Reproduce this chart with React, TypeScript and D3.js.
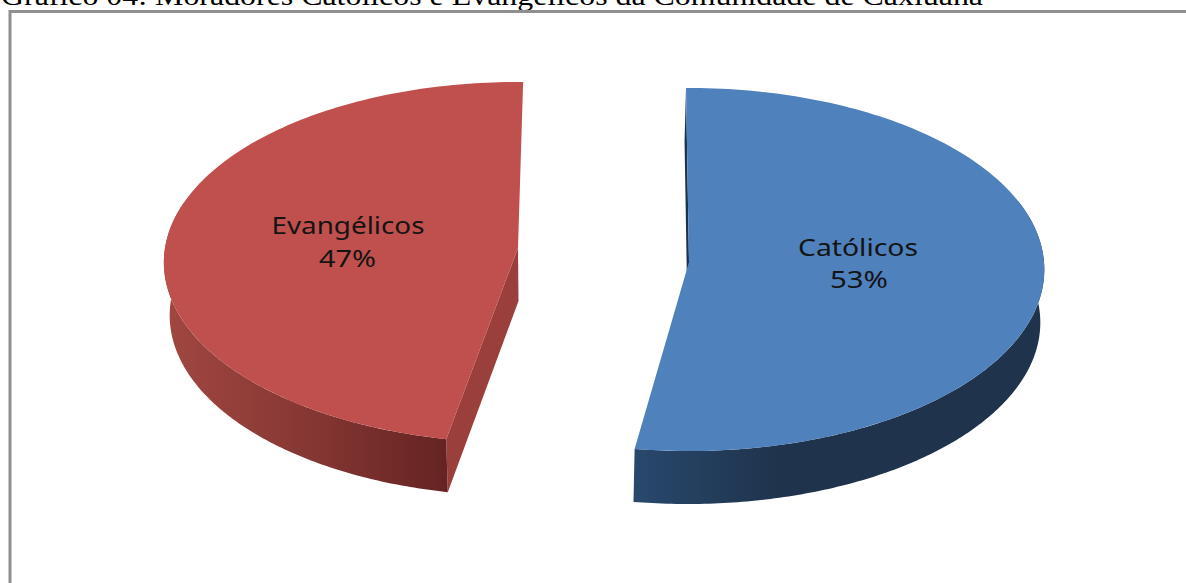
import React from "react";
import * as d3 from "d3";

const categories = ["Católicos", "Evangélicos"];
const seriesValues = [53, 47];
const percentLabels = ["53%", "47%"];
const titleText = "Gráfico 04: Moradores Católicos e Evangélicos da Comunidade de Caxiuanã";

const W = 1186;
const H = 583;
const DEG = Math.PI / 180;

type View = {
  cx: number; cy: number; rx: number; ry: number; k: number; depth: number;
  lowerDx: number; lowerScale: number; startAdj: number; endAdj: number;
  wallFrom: number; top: string; wall: string; side: string;
  label: { x: number; y: number; w: number }; pct: { x: number; y: number; w: number };
};

const views: View[] = [
  {
    cx: 689, cy: 262, rx: 355, ry: 181.2, k: 0.0414, depth: 53, lowerDx: -1.5, lowerScale: 0.993,
    startAdj: -0.5, endAdj: -2.35, wallFrom: 70, top: "#4f81bd", wall: "url(#wallBlue)", side: "#1b324d",
    label: { x: 858, y: 256, w: 120 }, pct: { x: 859, y: 288, w: 58 },
  },
  {
    cx: 518, cy: 248, rx: 353, ry: 179.3, k: 0.08, depth: 53, lowerDx: 0.5, lowerScale: 0.985,
    startAdj: 0, endAdj: 0.9, wallFrom: 0, top: "#c0504d", wall: "url(#wallRed)", side: "#9a3f3c",
    label: { x: 348, y: 234, w: 153 }, pct: { x: 347.5, y: 266.5, w: 57 },
  },
];

const pieAngles = d3.pie<number>().sort(null).startAngle(0).endAngle(2 * Math.PI)(seriesValues);

function project(v: View, a: number, lower: boolean): [number, number] {
  const u = Math.sin(a);
  const t = -Math.cos(a);
  const w = 1 / (1 - v.k * t);
  const s = lower ? v.lowerScale : 1;
  const dx = lower ? v.lowerDx : 0;
  const dy = lower ? v.depth : 0;
  return [v.cx + dx + v.rx * s * u * w, v.cy + dy + v.ry * t * w];
}

const line = d3.line<[number, number]>().x((d) => d[0]).y((d) => d[1]);

function arcPts(v: View, a0: number, a1: number, lower: boolean): [number, number][] {
  const n = 160;
  return d3.range(n + 1).map((i) => project(v, a0 + ((a1 - a0) * i) / n, lower));
}

function apex(v: View, lower: boolean): [number, number] {
  return [v.cx + (lower ? v.lowerDx : 0), v.cy + (lower ? v.depth : 0)];
}

function Slice({ index }: { index: number }) {
  const v = views[index];
  const d = pieAngles[index];
  const a0 = d.startAngle + v.startAdj * DEG;
  const a1 = d.endAngle + v.endAdj * DEG;
  const top = [apex(v, false), ...arcPts(v, a0, a1, false)];
  let wallPts: [number, number][];
  const faces: [number, number][][] = [];
  if (index === 0) {
    // outer wall: right extreme round to the front cut
    const from = v.wallFrom * DEG;
    wallPts = [...arcPts(v, from, a1, false), ...arcPts(v, from, a1, true).reverse()];
    // thin far cut wall seen behind the start edge
    faces.push([project(v, a0, false), apex(v, false), apex(v, true), project(v, a0, true)]);
  } else {
    const to = 285 * DEG;
    wallPts = [...arcPts(v, a0, to, false), ...arcPts(v, a0, to, true).reverse()];
    // front cut wall from the start corner to the centre
    faces.push([project(v, a0, false), apex(v, false), apex(v, true), project(v, a0, true)]);
  }
  return (
    <g>
      {faces.map((f, i) => (
        <path key={i} d={line(f) + "Z"} fill={v.side} />
      ))}
      <path d={line(wallPts) + "Z"} fill={v.wall} />
      <path d={line(top) + "Z"} fill={v.top} />
    </g>
  );
}

function Label({ index }: { index: number }) {
  const v = views[index];
  const common = {
    fontFamily: "'Noto Sans', Lato, sans-serif",
    fontSize: 23,
    fill: "#141414",
    textAnchor: "middle" as const,
    lengthAdjust: "spacingAndGlyphs" as const,
  };
  return (
    <g>
      <text x={v.label.x} y={v.label.y} textLength={v.label.w} {...common}>{categories[index]}</text>
      <text x={v.pct.x} y={v.pct.y} textLength={v.pct.w} {...common}>{percentLabels[index]}</text>
    </g>
  );
}

export default function App() {
  return (
    <svg
      width={W}
      height={H}
      viewBox={`0 0 ${W} ${H}`}
      style={{ position: "absolute", left: 0, top: 0, display: "block", background: "#fff" }}
    >
      <defs>
        <linearGradient id="wallBlue" gradientUnits="userSpaceOnUse" x1={634} x2={780} y1={0} y2={0}>
          <stop offset="0" stopColor="#28486d" />
          <stop offset="1" stopColor="#1f334c" />
        </linearGradient>
        <linearGradient id="wallRed" gradientUnits="userSpaceOnUse" x1={170} x2={448} y1={0} y2={0}>
          <stop offset="0" stopColor="#a04641" />
          <stop offset="0.5" stopColor="#863733" />
          <stop offset="1" stopColor="#642322" />
        </linearGradient>
      </defs>
      <text x={1} y={5} fontFamily="'Liberation Serif', serif" fontSize={27} fill="#000" textLength={982} lengthAdjust="spacingAndGlyphs">
        {titleText}
      </text>
      <path d={`M10 ${H}V11.5H${W}`} fill="none" stroke="#8f8f8f" strokeWidth={3} />
      {seriesValues.map((_, i) => <Slice key={i} index={i} />)}
      {seriesValues.map((_, i) => <Label key={i} index={i} />)}
    </svg>
  );
}
